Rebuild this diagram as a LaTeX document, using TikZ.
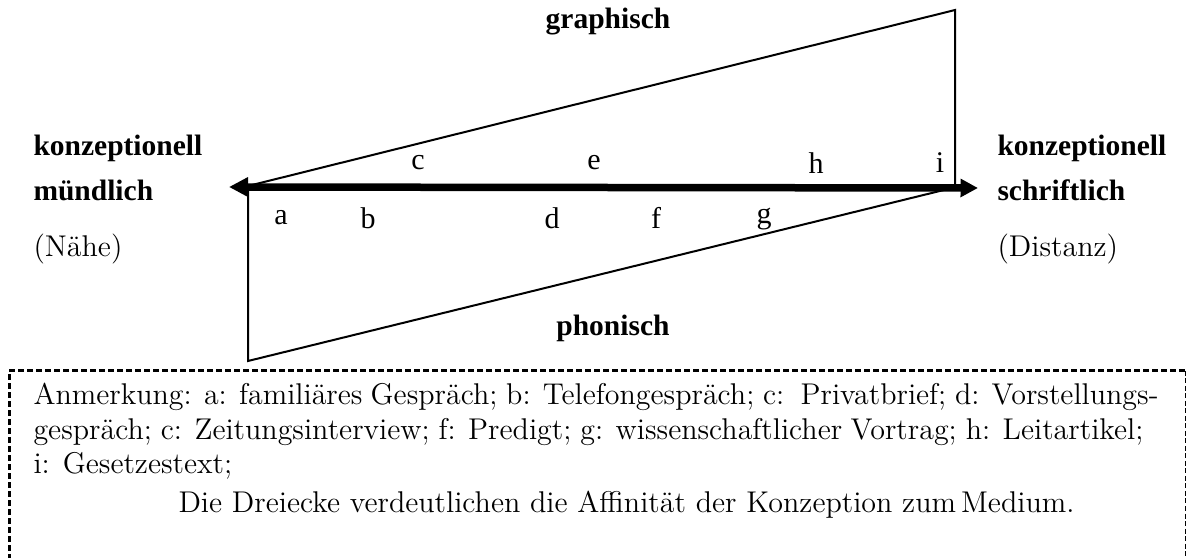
\documentclass[tikz,border=0pt]{standalone}
\usepackage{fontspec}
\usetikzlibrary{arrows.meta}
\newfontfamily\timesfont{Liberation Serif}
\begin{document}
\begin{tikzpicture}[x=0.4pt,y=-0.4pt,
  tri/.style={line width=0.8pt,line join=miter},
  axis/.style={line width=3pt,{Triangle[length=7.6pt,width=7.4pt]}-{Triangle[length=7pt,width=7pt]}},
  lbl/.style={font=\timesfont\fontsize{11.8}{14}\selectfont\bfseries,anchor=west,inner sep=0pt},
  plain/.style={font=\rmfamily\fontsize{12}{14}\selectfont,anchor=west,inner sep=0pt},
  letter/.style={font=\timesfont\fontsize{12}{14}\selectfont,inner sep=0pt},
  note/.style={font=\rmfamily\fontsize{12}{14}\selectfont,anchor=base west,inner sep=0pt}]
\useasboundingbox (0,0) rectangle (1187,558);
% triangles
\coordinate (ul) at (248,186);
\coordinate (ut) at (955,10);
\coordinate (ur) at (955,186);
\coordinate (lb) at (248,361);
\coordinate (lr) at (948,189);
\draw[tri] (ul) -- (ut) -- (ur);
\draw[tri] (ul) -- (lb) -- (lr);
% axis
\coordinate (al) at (229,187);
\coordinate (ar) at (978,188);
\draw[axis] (al) -- (ar);
% poles
\node[lbl] (km) at (33,148) {konzeptionell};
\node[lbl] (mu) at (33,190) {mündlich};
\node[plain] (na) at (33,249) {(Nähe)};
\node[lbl] (ks) at (997,148) {konzeptionell};
\node[lbl] (sc) at (997,190) {schriftlich};
\node[plain] (di) at (997,249) {(Distanz)};
\node[lbl,anchor=center] (gr) at (608,22) {graphisch};
\node[lbl,anchor=center] (ph) at (613,328) {phonisch};
% letters
\node[letter] (c) at (418,163) {c};
\node[letter] (e) at (594,163) {e};
\node[letter] (h) at (816,163) {h};
\node[letter] (i) at (940,163) {i};
\node[letter] (a) at (281,218) {a};
\node[letter] (b) at (368,218) {b};
\node[letter] (d) at (552,218) {d};
\node[letter] (f) at (656,218) {f};
\node[letter] (g) at (764,219) {g};
% note box
\draw[line width=1.2pt,dash pattern=on 2.4pt off 1.2pt] (9,560) -- (9,371) -- (1185,371);
\draw[line width=0.4pt,dash pattern=on 2pt off 1pt] (1185,371) -- (1185,560);
\node[note] (n1) at (33,405) {\makebox[450pt][s]{Anmerkung: a: familiäres Gespräch; b: Telefongespräch; c:\ \ Privatbrief; d: Vorstellungs-}};
\node[note] (n2) at (33,440) {\makebox[444pt][s]{gespräch; c: Zeitungsinterview; f: Predigt; g: wissenschaftlicher Vortrag; h: Leitartikel;}};
\node[note] (n3) at (33,474) {i: Gesetzestext;};
\node[note] (n4) at (178,513) {Die Dreiecke verdeutlichen die Affinität der Konzeption zum\,Medium.};
\end{tikzpicture}
\end{document}
